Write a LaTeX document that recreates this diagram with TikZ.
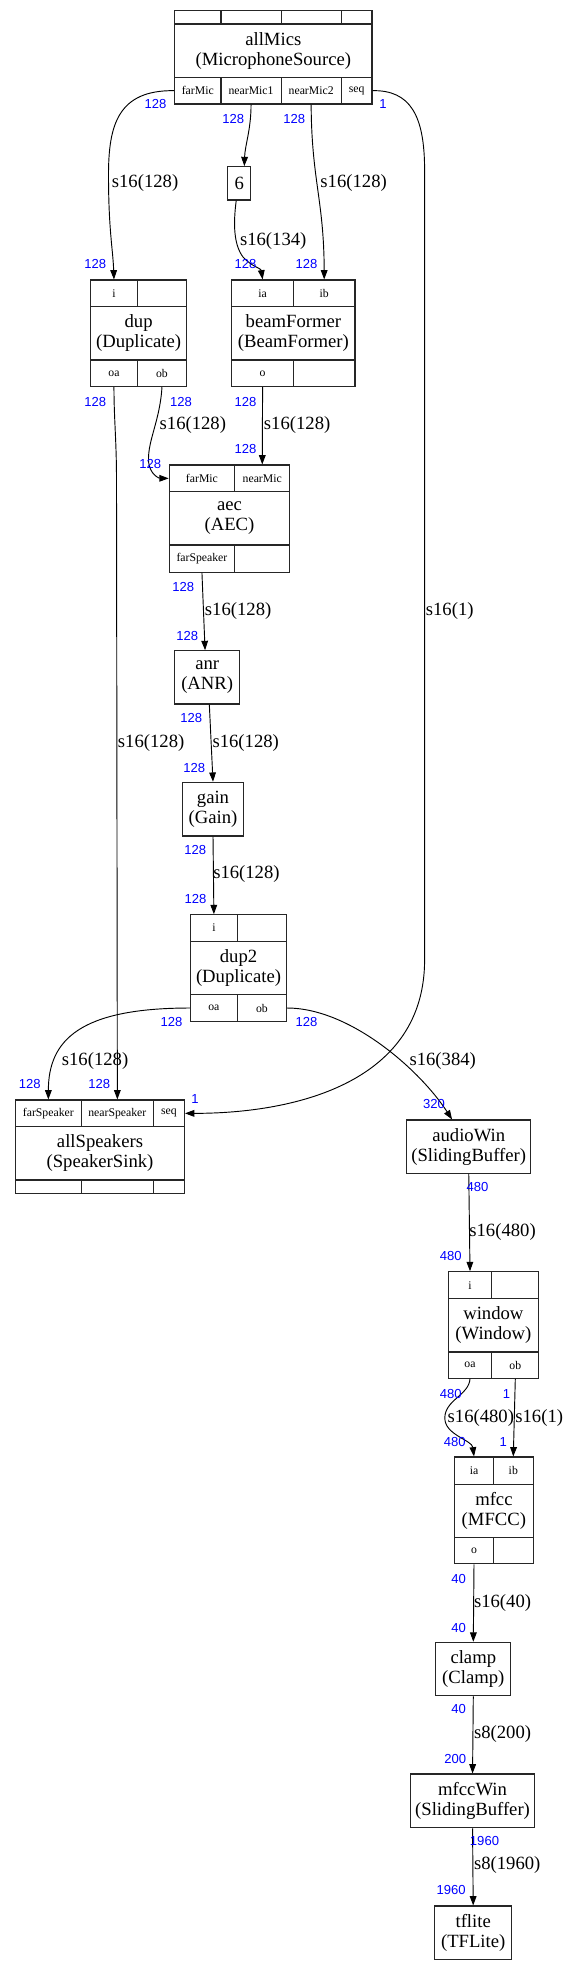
\documentclass[tikz,border=0pt]{standalone}
\usepackage{fontspec}
\setmainfont{Liberation Serif}
\newfontfamily\numfont{Liberation Sans}
\usetikzlibrary{arrows.meta}
\tikzset{
  box/.style={draw=black!85, line width=0.8pt, inner sep=0pt, align=center, font=\fontsize{14}{15}\selectfont},
  port/.style={box, font=\fontsize{8.8}{10}\selectfont},
  num/.style={text=blue, font=\numfont\fontsize{9.8}{11}\selectfont, inner sep=0pt},
  elabel/.style={font=\fontsize{14}{15}\selectfont, inner sep=0pt, anchor=west},
  edge/.style={draw=black, line width=0.7pt, -{Triangle[length=7pt,width=5pt]}},
}
\newcommand\rc[7][box]{%
  \pgfmathsetmacro\rcx{(#3+#5)/2}\pgfmathsetmacro\rcy{(#4+#6)/2}%
  \pgfmathsetmacro\rcw{(#5-#3)*0.75}\pgfmathsetmacro\rch{(#6-#4)*0.75}%
  \node[#1, minimum width=\rcw pt, minimum height=\rch pt] (#2) at (\rcx,\rcy) {#7};}
\begin{document}
\begin{tikzpicture}[x=0.75pt, y=-0.75pt]
\fill[white] (0,0) rectangle (568,1971);
\useasboundingbox (0,0) rectangle (568,1971);
% allMics
\rc[port]{allMics-t1}{174.6}{10.7}{221}{24}{}
\rc[port]{allMics-t2}{221}{10.7}{281.1}{24}{}
\rc[port]{allMics-t3}{281.1}{10.7}{341.2}{24}{}
\rc[port]{allMics-t4}{341.2}{10.7}{372}{24}{}
\rc{allMics}{174.6}{24}{372}{77.3}{allMics\\(MicrophoneSource)}
\rc[port]{allMics-farMic}{174.6}{77.3}{221}{104}{farMic}
\rc[port]{allMics-nearMic1}{221}{77.3}{281.1}{104}{nearMic1}
\rc[port]{allMics-nearMic2}{281.1}{77.3}{341.2}{104}{nearMic2}
\rc[port]{allMics-seq}{341.2}{77.3}{372}{104}{seq}
% six
\rc{six}{227.9}{166.7}{250.7}{200}{6}
% dup
\rc[port]{dup-i}{90.6}{280}{137.3}{306.7}{i}
\rc[port]{dup-e}{137.3}{280}{186.6}{306.7}{}
\rc{dup}{90.6}{306.7}{186.6}{360}{dup\\(Duplicate)}
\rc[port]{dup-oa}{90.6}{360}{137.3}{386.7}{oa}
\rc[port]{dup-ob}{137.3}{360}{186.6}{386.7}{ob}
% beamFormer
\rc[port]{bf-ia}{231.8}{280}{293.4}{306.7}{ia}
\rc[port]{bf-ib}{293.4}{280}{355}{306.7}{ib}
\rc{bf}{231.8}{306.7}{355}{360}{beamFormer\\(BeamFormer)}
\rc[port]{bf-o}{231.8}{360}{293.4}{386.7}{o}
\rc[port]{bf-e}{293.4}{360}{355}{386.7}{}
% aec
\rc[port]{aec-farMic}{169.2}{465}{234.7}{491.7}{farMic}
\rc[port]{aec-nearMic}{234.7}{465}{289.8}{491.7}{nearMic}
\rc{aec}{169.2}{491.7}{289.8}{545}{aec\\(AEC)}
\rc[port]{aec-farSpeaker}{169.2}{545}{234.7}{572.3}{farSpeaker}
\rc[port]{aec-e}{234.7}{545}{289.8}{572.3}{}
% anr, gain
\rc{anr}{174.6}{650.7}{239.8}{704}{anr\\(ANR)}
\rc{gain}{182.2}{782.3}{243.8}{836}{gain\\(Gain)}
% dup2
\rc[port]{dup2-i}{190.5}{914.7}{237.3}{941.3}{i}
\rc[port]{dup2-e}{237.3}{914.7}{286.5}{941.3}{}
\rc{dup2}{190.5}{941.3}{286.5}{994.7}{dup2\\(Duplicate)}
\rc[port]{dup2-oa}{190.5}{994.7}{237.3}{1021.3}{oa}
\rc[port]{dup2-ob}{237.3}{994.7}{286.5}{1021.3}{ob}
% allSpeakers
\rc[port]{as-farSpeaker}{15.6}{1100}{81.1}{1126.7}{farSpeaker}
\rc[port]{as-nearSpeaker}{81.1}{1100}{153.6}{1126.7}{nearSpeaker}
\rc[port]{as-seq}{153.6}{1100}{184.4}{1126.7}{seq}
\rc{allSpeakers}{15.6}{1126.7}{184.4}{1180}{allSpeakers\\(SpeakerSink)}
\rc[port]{as-b1}{15.6}{1180}{81.1}{1193.3}{}
\rc[port]{as-b2}{81.1}{1180}{153.6}{1193.3}{}
\rc[port]{as-b3}{153.6}{1180}{184.4}{1193.3}{}
% audioWin
\rc{audioWin}{406.8}{1120}{530.7}{1173.3}{audioWin\\(SlidingBuffer)}
% window
\rc[port]{win-i}{448.1}{1271.7}{491.9}{1298.7}{i}
\rc[port]{win-e}{491.9}{1271.7}{538.7}{1298.7}{}
\rc{window}{448.1}{1298.7}{538.7}{1352}{window\\(Window)}
\rc[port]{win-oa}{448.1}{1352}{491.9}{1378.3}{oa}
\rc[port]{win-ob}{491.9}{1352}{538.7}{1378.3}{ob}
% mfcc
\rc[port]{mfcc-ia}{454.6}{1457}{493.4}{1484.2}{ia}
\rc[port]{mfcc-ib}{493.4}{1457}{533.2}{1484.2}{ib}
\rc{mfcc}{454.6}{1484.2}{533.2}{1537.2}{mfcc\\(MFCC)}
\rc[port]{mfcc-o}{454.6}{1537.2}{493.4}{1563.7}{o}
\rc[port]{mfcc-e}{493.4}{1537.2}{533.2}{1563.7}{}
% rest
\rc{clamp}{435.8}{1642.3}{510.8}{1695.7}{clamp\\(Clamp)}
\rc{mfccWin}{410.4}{1774}{534.7}{1827.7}{mfccWin\\(SlidingBuffer)}
\rc{tflite}{434.7}{1906}{511.7}{1959.3}{tflite\\(TFLite)}

% edges
\draw[edge] (allMics-farMic.west) .. controls (118,90) and (108.5,125) .. (108.5,175) .. controls (108.5,230) and (113,250) .. (dup-i.north);
\draw[edge] (allMics-nearMic1.south) .. controls (251,130) and (245,145) .. ([xshift=3.75pt]six.north);
\draw[edge] ([xshift=-2.3pt]six.south) .. controls (233,225) and (234,245) .. (243,257) .. controls (252,267) and (261,268) .. (bf-ia.north);
\draw[edge] (allMics-nearMic2.south) .. controls (311.5,180) and (324,200) .. (bf-ib.north);
\draw[edge] (allMics-seq.east) .. controls (410,90) and (424.6,115) .. (424.6,170) -- (424.6,960) .. controls (424.6,1080) and (300,1113.4) .. (as-seq.east);
\draw[edge] (dup-oa.south) .. controls (114,420) and (116.5,440) .. (116.5,480) -- (as-nearSpeaker.north);
\draw[edge] (dup-ob.south) .. controls (160,420) and (148,440) .. (148.5,460) .. controls (149,475) and (160,478.3) .. (aec-farMic.west);
\draw[edge] (bf-o.south) -- (aec-nearMic.north);
\draw[edge] (aec-farSpeaker.south) -- ([xshift=-1.6pt]anr.north);
\draw[edge] ([xshift=1.6pt]anr.south) -- (gain.north);
\draw[edge] (gain.south) -- (dup2-i.north);
\draw[edge] (dup2-oa.west) .. controls (80,1008) and (48.4,1040) .. (as-farSpeaker.north);
\draw[edge] (dup2-ob.east) .. controls (350,1008) and (420,1070) .. ([xshift=-12.5pt]audioWin.north);
\draw[edge] (audioWin.south) -- (win-i.north);
\draw[edge] (win-oa.south) .. controls (469,1395) and (444.8,1400) .. (444.8,1418) .. controls (444.8,1435) and (472,1440) .. (mfcc-ia.north);
\draw[edge] (win-ob.south) -- (mfcc-ib.north);
\draw[edge] (mfcc-o.south) -- (clamp.north);
\draw[edge] (clamp.south) -- (mfccWin.north);
\draw[edge] (mfccWin.south) -- (tflite.north);

% edge labels
\node[elabel] (l1) at (111.6,182.7) {s16(128)};
\node[elabel] (l2) at (239.8,240.7) {s16(134)};
\node[elabel] (l3) at (320.2,182.7) {s16(128)};
\node[elabel] (l4) at (159.4,425.3) {s16(128)};
\node[elabel] (l5) at (263.7,425.3) {s16(128)};
\node[elabel] (l6) at (425.6,610.7) {s16(1)};
\node[elabel] (l7) at (204.7,610.7) {s16(128)};
\node[elabel] (l8) at (117.7,742.7) {s16(128)};
\node[elabel] (l9) at (212.3,742.7) {s16(128)};
\node[elabel] (l10) at (213,874.3) {s16(128)};
\node[elabel] (l11) at (61.6,1060.7) {s16(128)};
\node[elabel] (l12) at (409.3,1060.7) {s16(384)};
\node[elabel] (l13) at (469.1,1232.3) {s16(480)};
\node[elabel] (l14) at (447.4,1417.6) {s16(480)};
\node[elabel] (l15) at (515.1,1417.6) {s16(1)};
\node[elabel] (l16) at (473.8,1602.6) {s16(40)};
\node[elabel] (l17) at (473.8,1733.8) {s8(200)};
\node[elabel] (l18) at (473.8,1865.4) {s8(1960)};

% port numbers
\node[num] (n1) at (155.5,104) {128};
\node[num] (n2) at (95.2,264) {128};
\node[num] (n3) at (233.2,118.7) {128};
\node[num] (n4) at (245.6,264) {128};
\node[num] (n5) at (294.2,118.7) {128};
\node[num] (n6) at (306.5,264) {128};
\node[num] (n7) at (383,104) {1};
\node[num] (n8) at (95.2,401.7) {128};
\node[num] (n9) at (181,401.7) {128};
\node[num] (n10) at (245.6,401.7) {128};
\node[num] (n11) at (245.6,449.3) {128};
\node[num] (n12) at (150.3,464) {128};
\node[num] (n13) at (183.3,586.7) {128};
\node[num] (n14) at (187.3,635.7) {128};
\node[num] (n15) at (191.3,717.7) {128};
\node[num] (n16) at (194.2,768) {128};
\node[num] (n17) at (195.3,850) {128};
\node[num] (n18) at (195.6,898.7) {128};
\node[num] (n19) at (171.4,1022) {128};
\node[num] (n20) at (306.5,1022) {128};
\node[num] (n21) at (29.7,1083.7) {128};
\node[num] (n22) at (99.3,1083.7) {128};
\node[num] (n23) at (194.9,1099) {1};
\node[num] (n24) at (434,1104.3) {320};
\node[num] (n25) at (477.5,1186.7) {480};
\node[num] (n26) at (450.7,1256) {480};
\node[num] (n27) at (450.7,1394.3) {480};
\node[num] (n28) at (506.4,1394.3) {1};
\node[num] (n29) at (454.7,1441.8) {480};
\node[num] (n30) at (503.2,1441.8) {1};
\node[num] (n31) at (458.6,1578.8) {40};
\node[num] (n32) at (458.6,1627.5) {40};
\node[num] (n33) at (458.6,1709.3) {40};
\node[num] (n34) at (455.2,1759.1) {200};
\node[num] (n35) at (484.5,1841.3) {1960};
\node[num] (n36) at (451.2,1890.4) {1960};
\end{tikzpicture}
\end{document}
